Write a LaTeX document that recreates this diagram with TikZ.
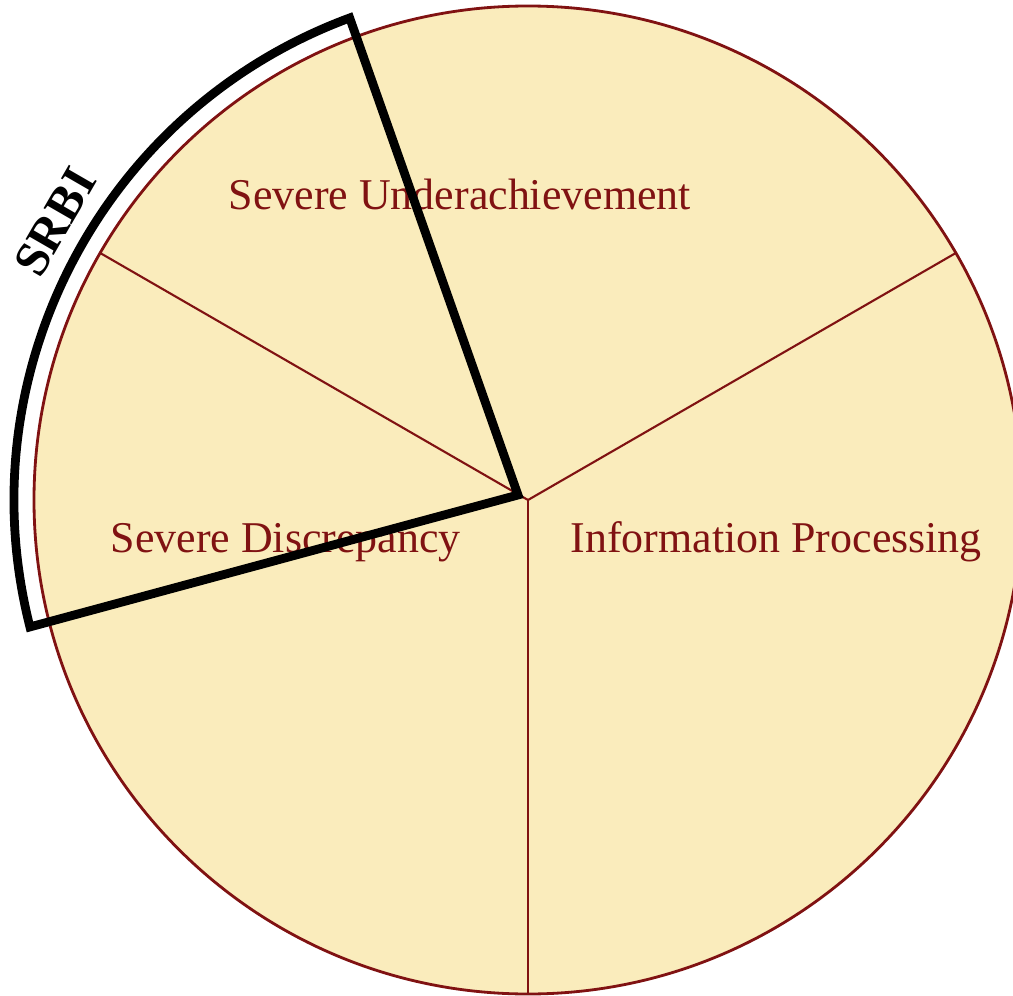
\documentclass[tikz,border=0pt]{standalone}
\usepackage{fontspec}
\setmainfont{Liberation Serif}
\usepackage{tikz}
\usetikzlibrary{calc}

\definecolor{pieline}{RGB}{128,18,18}
\definecolor{piefill}{RGB}{250,236,188}

\begin{document}
\begin{tikzpicture}[
    slice/.style={draw=pieline, line width=0.6pt},
    label/.style={text=pieline, inner sep=0pt, font=\fontsize{12.5}{14}\selectfont},
    srbi/.style={draw=black, line width=2.5pt, line join=miter}]
                \useasboundingbox (0,0) rectangle (10.13,9.95);
                \clip (0,0) rectangle (10.13,9.95);

                % Points
                \coordinate (C) at (5.28,4.95);
                \coordinate (V) at (5.18,5.00);
                \coordinate (A) at ($(C)+(30:4.94)$);
                \coordinate (B) at ($(C)+(150:4.94)$);
                \coordinate (D) at ($(C)+(270:4.94)$);

                % Pie
                \fill[piefill] (C) circle (4.94);
                \draw[slice] (C) -- (A);
                \draw[slice] (C) -- (B);
                \draw[slice] (C) -- (D);
                \draw[draw=pieline, line width=0.8pt] (C) circle (4.94);

                % Labels
                \node[label, anchor=base west] (under) at (2.28,7.85) {Severe Underachievement};
                \node[label, anchor=base west] (discr) at (1.10,4.43) {Severe Discrepancy};
                \node[label, anchor=base west] (info) at (5.70,4.43) {Information Processing};

                % SRBI outline
                \coordinate (S1) at ($(C)+(110.3:5.14)$);
                \draw[srbi] (V) -- (S1) arc[start angle=110.3, end angle=194.3, radius=5.14] -- cycle;
                \node[rotate=60, inner sep=0pt, font=\fontsize{14}{16}\selectfont\bfseries] (srbi) at (0.55,7.73) {SRBI};
            \end{tikzpicture}
\end{document}
